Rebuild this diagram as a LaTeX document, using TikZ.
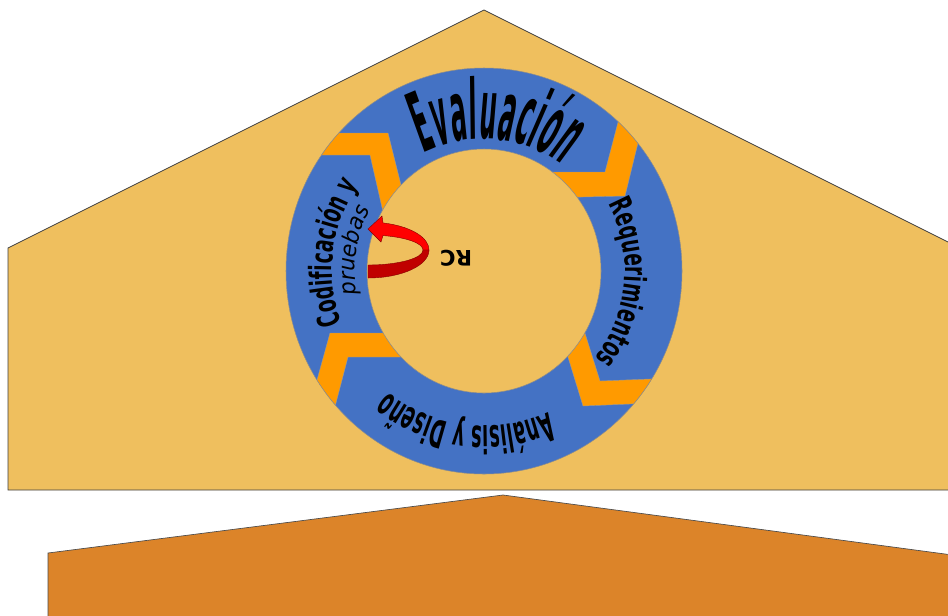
\documentclass[tikz,border=0pt]{standalone}
\usepackage{fontspec}
\setmainfont{DejaVu Sans}
\newfontfamily\fEval[FakeStretch=0.29]{DejaVu Sans}
\newfontfamily\fReq[FakeStretch=0.60]{DejaVu Sans}
\newfontfamily\fAna[FakeStretch=0.46]{DejaVu Sans}
\newfontfamily\fCod[FakeStretch=0.60]{DejaVu Sans}
\newfontfamily\fPru[FakeStretch=0.95]{DejaVu Sans}
\usetikzlibrary{decorations.text}
\definecolor{housefill}{HTML}{EFBF5E}
\definecolor{lowerfill}{HTML}{DC8429}
\definecolor{ringblue}{HTML}{4472C4}
\definecolor{chevorange}{HTML}{FF9A00}
\definecolor{redbright}{HTML}{FF0000}
\definecolor{reddark}{HTML}{C00000}
\tikzset{
  houseshape/.style={fill=housefill, draw=black!75, line width=0.6pt},
  lowershape/.style={fill=lowerfill, draw=black!70, line width=0.5pt},
  ringshape/.style={fill=ringblue},
  ringedge/.style={draw=black!45, line width=0.4pt},
  chevron/.style={fill=chevorange, draw=black!40, line width=0.3pt},
  ringtext/.style={decorate},
}
\begin{document}
\begin{tikzpicture}[x=0.75pt,y=-0.75pt]
\useasboundingbox (0,0) rectangle (948,615);
\clip (0,0) rectangle (948,615);
\fill[white] (0,0) rectangle (948,615);
% lower shape
\path[lowershape] (48,640) -- (48,553) -- (503,495) -- (960,556) -- (960,640) -- cycle;
% house
\path[houseshape] (8,490) -- (8,248) -- (484,10) -- (960,248) -- (960,490) -- cycle;
% ring
\coordinate (rc) at (484,271);
\path[ringshape] (rc) ellipse[x radius=198, y radius=203];
\begin{scope}
  \clip (rc) ellipse[x radius=198, y radius=203];
  \path[chevron] (290,133) -- (388,133) -- (410,221) -- (389,238) -- (370,155) -- (290,155) -- cycle;
  \path[chevron] (540,198) -- (625,196) -- (647,106) -- (628,84) -- (605,172) -- (540,172) -- cycle;
  \path[chevron] (556,318) -- (583,406) -- (700,401) -- (700,377) -- (600,381) -- (573,295) -- cycle;
  \path[chevron] (420,333) -- (330,333) -- (304,427) -- (325,445) -- (348,357) -- (420,357) -- cycle;
\end{scope}
\path[fill=housefill, ringedge] (rc) ellipse[x radius=117, y radius=122];
\path[ringedge] (rc) ellipse[x radius=198, y radius=203];
% texts along the ring
\path[ringtext, decoration={text along path, text align=center,
  text={|\fEval\bfseries\itshape\fontsize{62}{64}\selectfont|Evaluación}}]
  ([shift={(rc)}]-145:132) arc[start angle=-145, end angle=-25, radius=132];
\path[ringtext, decoration={text along path, text align=center,
  text={|\fReq\bfseries\fontsize{23}{25}\selectfont|Requerimientos}}]
  ([shift={(rc)}]-55:141) arc[start angle=-55, end angle=65, radius=141];
\path[ringtext, decoration={text along path, text align=center,
  text={|\fAna\bfseries\fontsize{29}{31}\selectfont|Análisis y Diseño}}]
  ([shift={(rc)}]37:155) arc[start angle=37, end angle=157, radius=155];
\path[ringtext, decoration={text along path, text align=center,
  text={|\fCod\bfseries\fontsize{23}{25}\selectfont|Codificación y}}]
  ([shift={(rc)}]-233:152) arc[start angle=-233, end angle=-113, radius=152];
\path[ringtext, decoration={text along path, text align=center,
  text={|\fPru\itshape\fontsize{17}{19}\selectfont|pruebas}}]
  ([shift={(rc)}]-231:129) arc[start angle=-231, end angle=-111, radius=129];
% red arrow
\coordinate (ac) at (368,250);
\path[fill=redbright, draw=reddark!70!black, line width=0.3pt]
  (383,222.9) arc[start angle=-75.8, end angle=0, x radius=61, y radius=28]
  -- (423,250) arc[start angle=0, end angle=-74.2, x radius=55, y radius=15]
  -- (381,242) -- (368,229) -- (382,216) -- cycle;
\path[fill=reddark, draw=reddark!70!black, line width=0.3pt]
  (429,250) arc[start angle=0, end angle=90, x radius=61, y radius=28]
  -- (368,265) arc[start angle=90, end angle=0, x radius=55, y radius=15] -- cycle;
\node[rotate=180, font=\bfseries\fontsize{16}{16}\selectfont, inner sep=0pt] (rclabel) at (456,258) {RC};
\end{tikzpicture}
\end{document}
